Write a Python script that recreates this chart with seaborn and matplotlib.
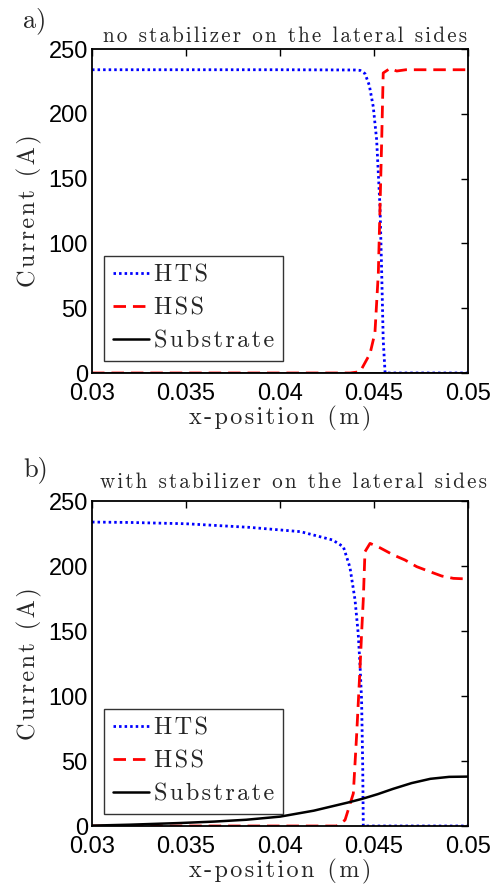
import numpy as np
import matplotlib
matplotlib.use('Agg')
import matplotlib.pyplot as plt
import seaborn as sns

# données : courant (A) en fonction de la position x (m)
# a) sans stabilisateur sur les côtés latéraux
a_hts_x = [0.030, 0.035, 0.040, 0.0440, 0.04426, 0.04452, 0.04475, 0.04496, 0.04514,
           0.04532, 0.04541, 0.04549, 0.04559, 0.0460, 0.050]
a_hts_y = [234, 234, 234, 233.8, 233.5, 231, 222, 205.5, 180, 128, 77, 25.5, 0, 0, 0]
a_hss_x = [0.030, 0.040, 0.04372, 0.04426, 0.04479, 0.04505, 0.04523, 0.04532, 0.04541,
           0.04549, 0.04585, 0.04621, 0.0467, 0.050]
a_hss_y = [0, 0, 0, 1, 15, 31, 77, 128, 180, 231.5, 235, 233, 234, 234]
a_sub_x = [0.030, 0.040, 0.045, 0.050]
a_sub_y = [0, 0, 0, 0]

# b) avec stabilisateur sur les côtés latéraux
b_hts_x = [0.030, 0.032, 0.035, 0.0384, 0.0411, 0.0428, 0.04337, 0.04372, 0.04399,
           0.04416, 0.04426, 0.04434, 0.0444, 0.04443, 0.0450, 0.050]
b_hts_y = [233.8, 233.5, 232.5, 229.7, 226.4, 220, 214.8, 199, 174, 148, 122.5, 97,
           45.6, 0, 0, 0]
b_hss_x = [0.030, 0.040, 0.04302, 0.04346, 0.0439, 0.04408, 0.04426, 0.04434, 0.04443,
           0.04452, 0.04479, 0.04532, 0.04603, 0.04665, 0.04727, 0.04798, 0.0486,
           0.04922, 0.0500]
b_hss_y = [0, 0, 0, 4.6, 25, 71, 122.5, 148, 174, 211, 217.4, 214, 208.5, 204.6, 199.5,
           195.6, 192.3, 190.5, 190]
b_sub_x = [0.030, 0.032, 0.0347, 0.0365, 0.0382, 0.040, 0.0418, 0.0436, 0.0444, 0.0452,
           0.046, 0.047, 0.048, 0.049, 0.050]
b_sub_y = [0.3, 1.0, 2.3, 3.4, 4.8, 7.2, 11.8, 18, 21, 24.5, 28.5, 33, 36.3, 37.8, 38]

x_ticks = [0.03, 0.035, 0.04, 0.045, 0.05]
x_tick_labels = ['0.03', '0.035', '0.04', '0.045', '0.05']
y_ticks = [0, 50, 100, 150, 200, 250]

sns.set_style('white')
serif = ['cmr10', 'DejaVu Sans']
tick_font = 'Liberation Sans'


def spaced(s):
    # texte espacé façon LaTeX de MATLAB
    return '\u200a'.join(s)


fig = plt.figure(figsize=(4.95, 8.88), dpi=100)
W, H = 495, 888
ax1 = fig.add_axes([92 / W, 1 - 373 / H, 376 / W, 324 / H])
ax2 = fig.add_axes([92 / W, 1 - 826 / H, 376 / W, 325 / H])

panels = [
    (ax1, a_hts_x, a_hts_y, a_hss_x, a_hss_y, a_sub_x, a_sub_y),
    (ax2, b_hts_x, b_hts_y, b_hss_x, b_hss_y, b_sub_x, b_sub_y),
]

for ax, hx, hy, sx, sy, ux, uy in panels:
    sns.lineplot(x=hx, y=hy, ax=ax, color='#0000ff', linestyle=(0, (0.9, 1.1)),
                 linewidth=2, label=spaced('HTS'), sort=False)
    sns.lineplot(x=sx, y=sy, ax=ax, color='#ff0000', linestyle=(0, (4.5, 2.5)),
                 linewidth=2, label=spaced('HSS'), sort=False)
    sns.lineplot(x=ux, y=uy, ax=ax, color='black', linestyle='-',
                 linewidth=1.8, label=spaced('Substrate'), sort=False)
    ax.set_xlim(0.03, 0.05)
    ax.set_ylim(0, 250)
    ax.set_xticks(x_ticks)
    ax.set_xticklabels(x_tick_labels)
    ax.set_yticks(y_ticks)
    ax.tick_params(direction='in', length=5, width=1, top=True, right=True,
                   labelsize=17, colors='black')
    ax.tick_params(axis='x', pad=7)
    ax.tick_params(axis='y', pad=3)
    for lab in ax.get_xticklabels() + ax.get_yticklabels():
        lab.set_family(tick_font)
    for sp in ax.spines.values():
        sp.set_color('black')
        sp.set_linewidth(1.3)
    ax.set_xlabel(spaced('x-position (m)'), family=serif, fontsize=17.5, labelpad=1)
    ax.set_ylabel(spaced('Current (A)'), family=serif, fontsize=17.5, labelpad=5)
    leg = ax.legend(loc='lower left', prop={'family': serif, 'size': 17.5},
                    handlelength=1.5, handletextpad=0.2, labelspacing=0.45,
                    borderpad=0.35, borderaxespad=0.5, frameon=True, fancybox=False)
    leg.get_frame().set_edgecolor('black')
    leg.get_frame().set_linewidth(1.0)

fig.text(23 / W, 1 - 27 / H, 'a)', family=serif, fontsize=19, va='baseline')
fig.text(23 / W, 1 - 476 / H, 'b)', family=serif, fontsize=19, va='baseline')
fig.text(285 / W, 1 - 42 / H, spaced('no stabilizer on the lateral sides'),
         family=serif, fontsize=15.2, ha='center', va='baseline')
fig.text(294 / W, 1 - 488 / H, spaced('with stabilizer on the lateral sides'),
         family=serif, fontsize=15.2, ha='center', va='baseline')

plt.savefig('out.png', dpi=100)
